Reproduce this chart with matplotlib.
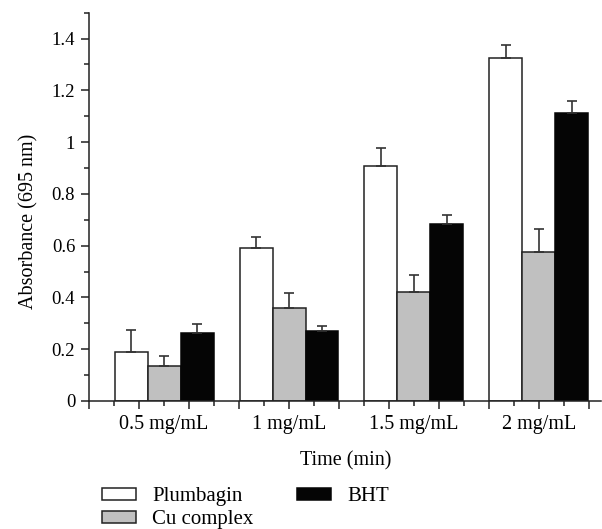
import matplotlib.pyplot as plt
import numpy as np
from matplotlib.ticker import MultipleLocator, FuncFormatter

# ----------------------------
# Data
# ----------------------------
doses = ["0.5 mg/mL", "1 mg/mL", "1.5 mg/mL", "2 mg/mL"]
plumbagin = [0.188, 0.592, 0.907, 1.325]
plumbagin_err = [0.086, 0.040, 0.069, 0.050]
cu_complex = [0.135, 0.360, 0.421, 0.577]
cu_complex_err = [0.039, 0.058, 0.067, 0.087]
bht = [0.261, 0.271, 0.682, 1.112]
bht_err = [0.037, 0.017, 0.037, 0.047]

plt.rcParams["font.family"] = ["Liberation Serif", "DejaVu Serif"]
plt.rcParams["font.size"] = 14

# ----------------------------
# Plot
# ----------------------------
fig = plt.figure(figsize=(6.02, 5.29), dpi=100)
ax = fig.add_axes([0.148, 0.242, 0.851, 0.734])

x = np.arange(1, len(doses) + 1)
w = 0.264
err_kw = dict(ecolor="#333333", elinewidth=1.2, capsize=3.5, capthick=1.2)

ax.bar(x - w, plumbagin, w, color="white", edgecolor="#222222", linewidth=1.1,
       yerr=[np.zeros(4), plumbagin_err], error_kw=err_kw, label="Plumbagin")
ax.bar(x, cu_complex, w, color="#c0c0c0", edgecolor="#222222", linewidth=1.1,
       yerr=[np.zeros(4), cu_complex_err], error_kw=err_kw, label="Cu complex")
ax.bar(x + w, bht, w, color="#050505", edgecolor="#050505", linewidth=1.1,
       yerr=[np.zeros(4), bht_err], error_kw=err_kw, label="BHT")

ax.set_xlim(0.4, 4.5)
ax.set_ylim(0, 1.5)

ax.spines["top"].set_visible(False)
ax.spines["right"].set_visible(False)
for s in ["left", "bottom"]:
    ax.spines[s].set_linewidth(1.1)
    ax.spines[s].set_color("#222222")

ax.yaxis.set_major_locator(MultipleLocator(0.2))
ax.yaxis.set_minor_locator(MultipleLocator(0.1))
ax.yaxis.set_major_formatter(FuncFormatter(lambda v, p: f"{v:g}"))

ax.set_xticks(np.arange(0.4, 4.45, 0.4))
ax.set_xticks(np.arange(0.6, 4.45, 0.4), minor=True)
ax.set_xticklabels([])
ax.tick_params(which="major", direction="out", length=6, width=1.1,
               color="#222222", labelsize=13.5, pad=4)
ax.tick_params(which="minor", direction="out", length=3.5, width=1.1, color="#222222")

for xi, lab in zip(x, doses):
    ax.text(xi, -0.09, lab, ha="center", va="center", fontsize=14.5)

ax.set_ylabel("Absorbance (695 nm)", fontsize=14.5)
ax.yaxis.set_label_coords(-0.098, 0.463)
ax.set_xlabel("Time (min)", labelpad=26, fontsize=14.5)

fig.legend(loc="upper left", bbox_to_anchor=(0.17, 0.079), ncol=2,
           frameon=False, handlelength=1.6, handleheight=0.5, fontsize=15,
           columnspacing=2.1, labelspacing=0.2, handletextpad=0.8,
           borderaxespad=0, borderpad=0)

fig.savefig("out.png", dpi=100)
